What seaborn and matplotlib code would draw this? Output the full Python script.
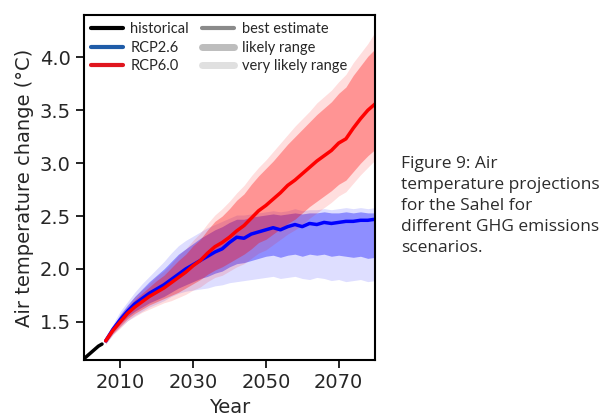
import matplotlib
matplotlib.use("Agg")
import matplotlib.pyplot as plt
from matplotlib.lines import Line2D
import numpy as np
import seaborn as sns

# historical run
hist_years = [2000, 2001, 2002, 2003, 2004, 2005]
hist_vals = [1.15, 1.18, 1.21, 1.24, 1.27, 1.29]

# scenario years (2-yearly)
years = list(range(2006, 2081, 2))

rcp26_mid = [1.32, 1.43, 1.52, 1.60, 1.67, 1.72, 1.77, 1.81, 1.85, 1.90,
             1.95, 2.00, 2.04, 2.08, 2.12, 2.16, 2.19, 2.25, 2.30, 2.29,
             2.33, 2.35, 2.37, 2.39, 2.37, 2.40, 2.42, 2.40, 2.43, 2.42,
             2.44, 2.43, 2.44, 2.45, 2.45, 2.46, 2.46, 2.47]
rcp26_likely_hi = [1.34, 1.46, 1.57, 1.66, 1.74, 1.81, 1.88, 1.94, 2.00, 2.07,
                   2.14, 2.19, 2.24, 2.29, 2.33, 2.37, 2.40, 2.44, 2.47, 2.47,
                   2.49, 2.50, 2.51, 2.52, 2.51, 2.52, 2.53, 2.52, 2.53, 2.53,
                   2.54, 2.53, 2.53, 2.54, 2.53, 2.54, 2.53, 2.53]
rcp26_likely_lo = [1.30, 1.40, 1.48, 1.55, 1.60, 1.64, 1.68, 1.71, 1.74, 1.78,
                   1.82, 1.85, 1.88, 1.91, 1.93, 1.96, 1.98, 2.02, 2.05, 2.06,
                   2.08, 2.10, 2.12, 2.13, 2.11, 2.13, 2.14, 2.12, 2.14, 2.13,
                   2.14, 2.12, 2.13, 2.12, 2.11, 2.12, 2.10, 2.11]
rcp26_vlikely_hi = [1.35, 1.48, 1.60, 1.69, 1.78, 1.86, 1.93, 2.00, 2.07, 2.15,
                    2.22, 2.27, 2.31, 2.35, 2.39, 2.42, 2.45, 2.48, 2.51, 2.51,
                    2.52, 2.53, 2.54, 2.55, 2.54, 2.55, 2.57, 2.55, 2.56, 2.56,
                    2.57, 2.56, 2.57, 2.58, 2.57, 2.58, 2.57, 2.58]
rcp26_vlikely_lo = [1.29, 1.38, 1.45, 1.51, 1.56, 1.60, 1.64, 1.67, 1.70, 1.74,
                    1.77, 1.79, 1.80, 1.81, 1.82, 1.84, 1.85, 1.87, 1.88, 1.89,
                    1.90, 1.91, 1.92, 1.93, 1.91, 1.92, 1.93, 1.91, 1.90, 1.92,
                    1.91, 1.89, 1.90, 1.88, 1.89, 1.90, 1.88, 1.89]

rcp60_mid = [1.32, 1.42, 1.50, 1.58, 1.64, 1.69, 1.74, 1.78, 1.82, 1.87,
             1.92, 1.97, 2.03, 2.08, 2.15, 2.21, 2.25, 2.30, 2.36, 2.41,
             2.48, 2.55, 2.60, 2.66, 2.72, 2.79, 2.84, 2.90, 2.96, 3.02,
             3.07, 3.12, 3.19, 3.23, 3.33, 3.42, 3.50, 3.56]
rcp60_likely_hi = [1.34, 1.45, 1.54, 1.63, 1.71, 1.77, 1.83, 1.89, 1.94, 2.01,
                   2.08, 2.14, 2.22, 2.28, 2.37, 2.45, 2.50, 2.57, 2.65, 2.71,
                   2.80, 2.88, 2.95, 3.02, 3.10, 3.18, 3.25, 3.32, 3.39, 3.46,
                   3.52, 3.58, 3.66, 3.72, 3.83, 3.92, 4.01, 4.08]
rcp60_likely_lo = [1.30, 1.39, 1.46, 1.53, 1.58, 1.62, 1.66, 1.69, 1.72, 1.75,
                   1.78, 1.82, 1.86, 1.90, 1.95, 1.99, 2.02, 2.06, 2.10, 2.14,
                   2.19, 2.25, 2.28, 2.33, 2.38, 2.43, 2.47, 2.53, 2.59, 2.64,
                   2.69, 2.74, 2.80, 2.84, 2.92, 3.00, 3.07, 3.13]
rcp60_vlikely_hi = [1.35, 1.46, 1.56, 1.65, 1.74, 1.80, 1.86, 1.93, 1.98, 2.05,
                    2.13, 2.19, 2.27, 2.34, 2.43, 2.51, 2.57, 2.64, 2.72, 2.79,
                    2.88, 2.96, 3.03, 3.11, 3.19, 3.27, 3.35, 3.42, 3.49, 3.57,
                    3.63, 3.69, 3.77, 3.84, 3.95, 4.04, 4.13, 4.24]
rcp60_vlikely_lo = [1.29, 1.38, 1.44, 1.51, 1.55, 1.59, 1.62, 1.65, 1.68, 1.70,
                    1.73, 1.76, 1.80, 1.83, 1.88, 1.92, 1.94, 1.98, 2.02, 2.05,
                    2.10, 2.15, 2.18, 2.23, 2.28, 2.33, 2.37, 2.42, 2.48, 2.53,
                    2.58, 2.63, 2.69, 2.73, 2.81, 2.89, 2.96, 3.03]

xticks = [2010, 2030, 2050, 2070]
yticks = [1.5, 2.0, 2.5, 3.0, 3.5, 4.0]

caption = ("Figure 9: Air\ntemperature projections\nfor the Sahel for\n"
           "different GHG emissions\nscenarios.")

sns.set_style("ticks")
plt.rcParams['font.family'] = ['DejaVu Sans']

fig = plt.figure(figsize=(6.03, 4.19), dpi=100)
ax = fig.add_axes([0.139, 0.141, 0.483, 0.823])

# ranges
ax.fill_between(years, rcp26_vlikely_lo, rcp26_vlikely_hi, color="blue", alpha=0.13, lw=0)
ax.fill_between(years, rcp26_likely_lo, rcp26_likely_hi, color="blue", alpha=0.36, lw=0)
ax.fill_between(years, rcp60_vlikely_lo, rcp60_vlikely_hi, color="red", alpha=0.13, lw=0)
ax.fill_between(years, rcp60_likely_lo, rcp60_likely_hi, color="red", alpha=0.33, lw=0)

# best estimates
sns.lineplot(x=hist_years, y=hist_vals, color="black", lw=2.5, ax=ax)
sns.lineplot(x=years, y=rcp26_mid, color="blue", lw=2.5, ax=ax)
sns.lineplot(x=years, y=rcp60_mid, color="red", lw=2.5, ax=ax)

ax.set_xlim(2000, 2080)
ax.set_ylim(1.14, 4.40)
ax.set_xticks(xticks)
ax.set_yticks(yticks)
ax.tick_params(labelsize=14, length=6, width=1.2, color="black")
ax.set_xlabel("Year", fontsize=14)
ax.set_ylabel("Air temperature change (°C)", fontsize=14)
for s in ax.spines.values():
    s.set_color("black")
    s.set_linewidth(1.5)

handles = [
    Line2D([], [], color="black", lw=3),
    Line2D([], [], color="#1f5ca8", lw=3),
    Line2D([], [], color="#e0161e", lw=3),
    Line2D([], [], color="#8a8a8a", lw=3),
    Line2D([], [], color="#bdbdbd", lw=5),
    Line2D([], [], color="#e0e0e0", lw=5),
]
labels = ["historical", "RCP2.6", "RCP6.0", "best estimate", "likely range", "very likely range"]
ax.legend(handles, labels, ncol=2, loc="upper left", frameon=False,
          prop={"family": "Lato", "size": 10.5}, handlelength=2.2,
          handletextpad=0.5, columnspacing=0.9, labelspacing=0.3,
          borderaxespad=0.3, borderpad=0.2)

fig.text(0.665, 0.628, caption, ha="left", va="top", fontsize=12.5,
         family="Open Sans", color="#2b2b2b", linespacing=1.42)

fig.savefig("out.png", dpi=100)
